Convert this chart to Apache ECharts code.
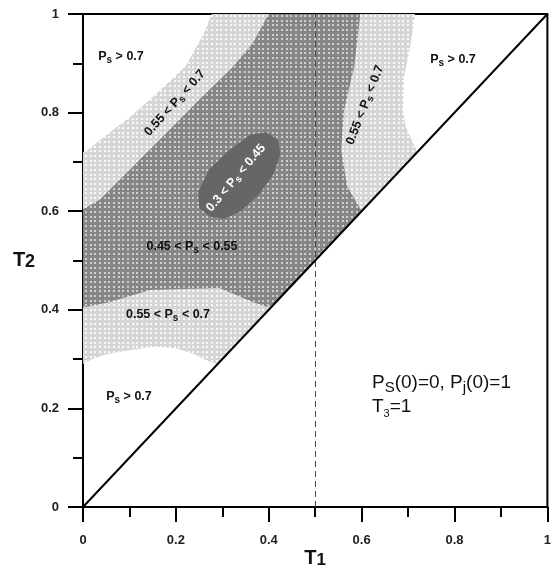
<!DOCTYPE html>
<html>
<head>
<meta charset="utf-8">
<script src="https://cdn.jsdelivr.net/npm/echarts@6/dist/echarts.min.js"></script>
<style>
html,body{margin:0;padding:0;background:#fff}
#chart{width:554px;height:569px}
</style>
</head>
<body>
<div id="chart"></div>
<script>
// outlines of the Ps bands as [T1, T2]
// outer edge of Ps < 0.7 (light band 0.55 < Ps < 0.7)
var lightRegion = [
    [0.29,0.29],[0.27,0.295],[0.24,0.31],[0.2,0.322],[0.15,0.325],[0.1,0.318],[0.05,0.31],[0.02,0.30],[0,0.29],
    [0,0.72],[0.01,0.724],[0.058,0.76],[0.1,0.79],[0.144,0.826],[0.22,0.893],[0.26,0.96],[0.277,1],
    [0.715,1],[0.706,0.941],[0.691,0.87],[0.689,0.805],[0.695,0.771],[0.72,0.72]
];
// Ps < 0.55
var midRegion = [
    [0.41,0.41],[0.395,0.406],[0.365,0.416],[0.33,0.43],[0.294,0.444],[0.144,0.44],[0.094,0.426],[0.058,0.416],[0.009,0.406],[0,0.406],
    [0,0.604],[0.036,0.623],[0.107,0.69],[0.18,0.759],[0.25,0.826],[0.32,0.89],[0.365,0.94],[0.40,1],
    [0.597,1],[0.584,0.893],[0.562,0.805],[0.556,0.724],[0.569,0.65],[0.6,0.6]
];
// Ps < 0.45
var darkRegion = [
    [0.395,0.76],[0.36,0.755],[0.31,0.72],[0.272,0.685],[0.248,0.64],[0.25,0.607],[0.275,0.588],[0.305,0.585],
    [0.34,0.6],[0.38,0.635],[0.41,0.675],[0.425,0.715],[0.42,0.745]
];
var diagonal = [[0,0],[1,1]];
var dashX = 0.5;

var FONT = 'Liberation Sans, Arial, sans-serif';

// grey fill with a grid of lighter dots, like the printed figure
function dotPattern(base, dot) {
    var c = document.createElement('canvas');
    c.width = 14; c.height = 14;
    var g = c.getContext('2d');
    g.fillStyle = base;
    g.fillRect(0, 0, 14, 14);
    g.fillStyle = dot;
    [0, 5, 9].forEach(function (x) {
        [0, 5, 9].forEach(function (y) { g.fillRect(x + 1, y + 1, 2, 2); });
    });
    return { image: c, repeat: 'repeat' };
}

function regionSeries(pts, fill, z) {
    return {
        type: 'custom',
        z: z,
        silent: true,
        data: pts,
        renderItem: function (params, api) {
            if (params.dataIndex !== 0) return;
            return {
                type: 'polygon',
                shape: { points: pts.map(function (p) { return api.coord(p); }) },
                style: { fill: fill }
            };
        }
    };
}

var richBase = {
    a: { fontSize: 12.5, fontFamily: FONT, fontWeight: 'bold', lineHeight: 16 },
    s: { fontSize: 10, fontFamily: FONT, fontWeight: 'bold', lineHeight: 10, verticalAlign: 'bottom', padding: [8, 0, 0, 0] }
};

function label(x, y, text, rot, color) {
    return {
        type: 'text', x: x, y: y, rotation: rot || 0, z: 100,
        style: { text: text, rich: richBase, fill: color || '#111', align: 'center', verticalAlign: 'middle' }
    };
}

function axis(margin) {
    return {
        type: 'value', min: 0, max: 1, interval: 0.2,
        axisLine: { lineStyle: { color: '#000', width: 2 } },
        axisTick: { length: 15, lineStyle: { color: '#000', width: 2 } },
        minorTick: { show: true, splitNumber: 2, length: 10, lineStyle: { color: '#000', width: 2 } },
        splitLine: { show: false },
        axisLabel: { color: '#222', fontSize: 13, fontWeight: 'bold', fontFamily: FONT, margin: margin }
    };
}

var chart = echarts.init(document.getElementById('chart'));
chart.setOption({
    animation: false,
    grid: { left: 83, right: 5, top: 14, bottom: 62, show: true, borderColor: '#000', borderWidth: 2 },
    xAxis: axis(27),
    yAxis: axis(24),
    series: [
        regionSeries(lightRegion, dotPattern('#d6d6d6', '#fbfbfb'), 1),
        regionSeries(midRegion, dotPattern('#868686', '#cfcfcf'), 2),
        regionSeries(darkRegion, '#666666', 3),
        {
            type: 'line', z: 5, data: diagonal, symbol: 'none', silent: true,
            lineStyle: { color: '#000', width: 2 },
            markLine: {
                silent: true, symbol: 'none', label: { show: false },
                lineStyle: { color: '#444', width: 1, type: [6, 4] },
                data: [{ xAxis: dashX }]
            }
        }
    ],
    graphic: [
        label(121, 57, '{a|P}{s|s}{a| > 0.7}'),
        label(175, 103, '{a|0.55 < P}{s|s}{a| < 0.7}', Math.PI / 4 + 0.05),
        label(236, 178, '{a|0.3 < P}{s|s}{a| < 0.45}', Math.PI / 4 + 0.08, '#fff'),
        label(192, 247, '{a|0.45 < P}{s|s}{a| < 0.55}'),
        label(168, 315, '{a|0.55 < P}{s|s}{a| < 0.7}'),
        label(129, 397, '{a|P}{s|s}{a| > 0.7}'),
        label(453, 60, '{a|P}{s|s}{a| > 0.7}'),
        label(365, 105, '{a|0.55 < P}{s|s}{a| < 0.7}', 1.2),
        {
            type: 'text', left: 372, top: 372, z: 100,
            style: {
                text: '{b|P}{c|S}{b|(0)=0, P}{d|j}{b|(0)=1}\n{b|T}{e|3}{b|=1}',
                fill: '#111',
                rich: {
                    b: { fontSize: 19, fontFamily: FONT, lineHeight: 24 },
                    c: { fontSize: 15, fontFamily: FONT, lineHeight: 15, verticalAlign: 'bottom', padding: [8, 0, 0, 0] },
                    d: { fontSize: 15, fontFamily: FONT, lineHeight: 15, verticalAlign: 'bottom', padding: [8, 0, 0, 0] },
                    e: { fontSize: 11, fontFamily: FONT, lineHeight: 11, verticalAlign: 'bottom', padding: [12, 0, 0, 0] }
                }
            }
        },
        {
            type: 'text', x: 315, y: 558, z: 100,
            style: {
                text: '{t|T}{n|1}', align: 'center', verticalAlign: 'middle', fill: '#111',
                rich: {
                    t: { fontSize: 20, fontWeight: 'bold', fontFamily: FONT, lineHeight: 22 },
                    n: { fontSize: 17, fontWeight: 'bold', fontFamily: FONT, lineHeight: 17, verticalAlign: 'bottom', padding: [8, 0, 0, 0] }
                }
            }
        },
        {
            type: 'text', x: 24, y: 260, z: 100,
            style: {
                text: '{t|T}{n|2}', align: 'center', verticalAlign: 'middle', fill: '#111',
                rich: {
                    t: { fontSize: 20, fontWeight: 'bold', fontFamily: FONT, lineHeight: 22 },
                    n: { fontSize: 18, fontWeight: 'bold', fontFamily: FONT, lineHeight: 18, verticalAlign: 'bottom', padding: [5, 0, 0, 0] }
                }
            }
        }
    ]
});
</script>
</body>
</html>
